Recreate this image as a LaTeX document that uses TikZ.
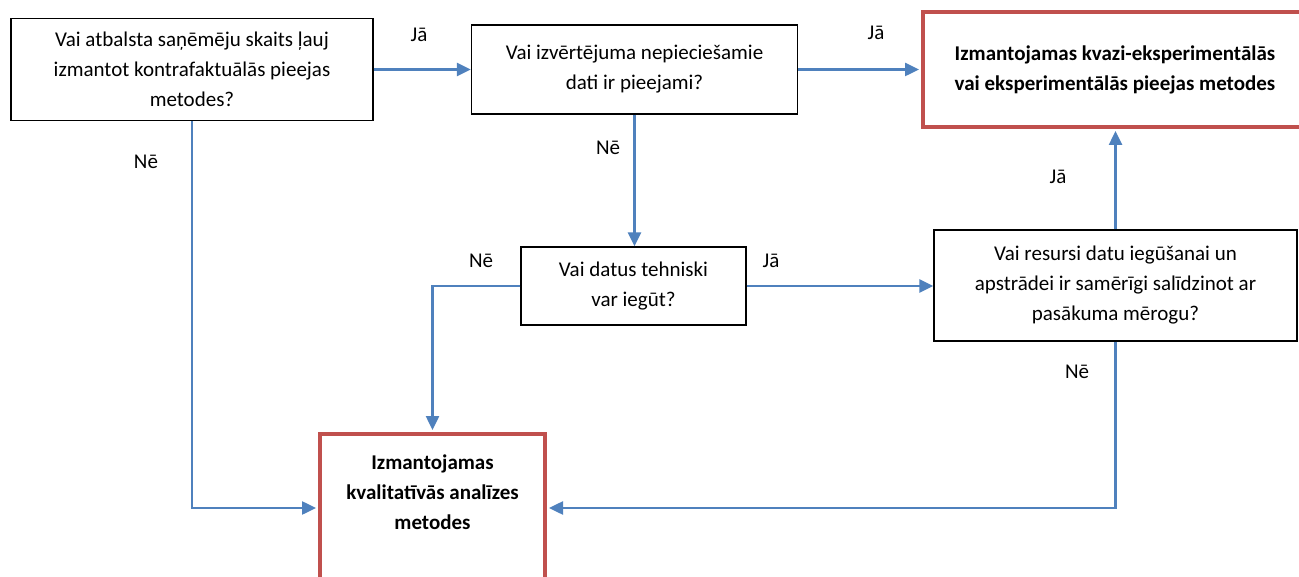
\documentclass[tikz,border=0pt]{standalone}
\usepackage{fontspec}
\setmainfont{Carlito}
\usetikzlibrary{arrows.meta}
\definecolor{lineblue}{HTML}{4F81BD}
\definecolor{boxred}{HTML}{C0504D}
\begin{document}
\begin{tikzpicture}[x=1pt,y=-1pt,
  font=\fontsize{21}{30}\selectfont,
  qbox/.style={draw=black, line width=1.3pt, align=center, inner sep=0pt, fill=white},
  rbox/.style={draw=boxred, line width=4pt, inner sep=0pt},
  rtext/.style={align=center, inner sep=0pt, font=\fontsize{21}{30}\selectfont\bfseries},
  conn/.style={draw=lineblue, line width=2.5pt, -{Triangle[length=14pt,width=13pt]}},
  lbl/.style={inner sep=0pt}]
\useasboundingbox (0,0) rectangle (1299,577);

\node[qbox, minimum width=362pt, minimum height=102.5pt] (q1) at (192,69.5)
  {Vai atbalsta saņēmēju skaits ļauj\\izmantot kontrafaktuālās pieejas\\metodes?};
\node[qbox, minimum width=326pt, minimum height=89pt] (q2) at (634.5,69.5)
  {Vai izvērtējuma nepieciešamie\\dati ir pieejami?};
\node[rbox, minimum width=384pt, minimum height=115pt, align=center,
  font=\fontsize{21}{30}\selectfont\bfseries] (r1) at (1115,69.5)
  {Izmantojamas kvazi-eksperimentālās\\vai eksperimentālās pieejas metodes};
\node[qbox, minimum width=225pt, minimum height=78pt] (q3) at (633.5,286)
  {Vai datus tehniski\\var iegūt?};
\node[qbox, minimum width=363pt, minimum height=111pt] (q4) at (1115.5,285.5)
  {Vai resursi datu iegūšanai un\\apstrādei ir samērīgi salīdzinot ar\\pasākuma mērogu?};
\node[rbox, minimum width=225pt, minimum height=148pt] (r2) at (432.5,508) {};
\node[rtext] (r2t) at (432.5,492) {Izmantojamas\\kvalitatīvās analīzes\\metodes};

\node[lbl] (l1) at (419,35) {Jā};
\node[lbl] (l2) at (876,33) {Jā};
\node[lbl] (l3) at (771,261) {Jā};
\node[lbl] (l4) at (1058,177) {Jā};
\node[lbl] (l5) at (146,162) {Nē};
\node[lbl] (l6) at (608,148) {Nē};
\node[lbl] (l7) at (481,261) {Nē};
\node[lbl] (l8) at (1077,372) {Nē};

\draw[conn] (q1.east) -- (q2.west);
\draw[conn, shorten >=2pt] (q2.east) -- (r1.west);
\draw[conn] (q2.south) -- (q2.south |- q3.north);
\draw[conn] (q3.east) -- (q3.east -| q4.west);
\draw[conn, shorten >=2pt] (q4.north) -- (q4.north |- r1.south);
\draw[conn, shorten >=2pt] (q1.south) |- (r2.west);
\draw[conn, shorten >=2pt] (q3.west) -| (r2.north);
\draw[conn, shorten >=2pt] (q4.south) |- (r2.east);
\end{tikzpicture}
\end{document}
